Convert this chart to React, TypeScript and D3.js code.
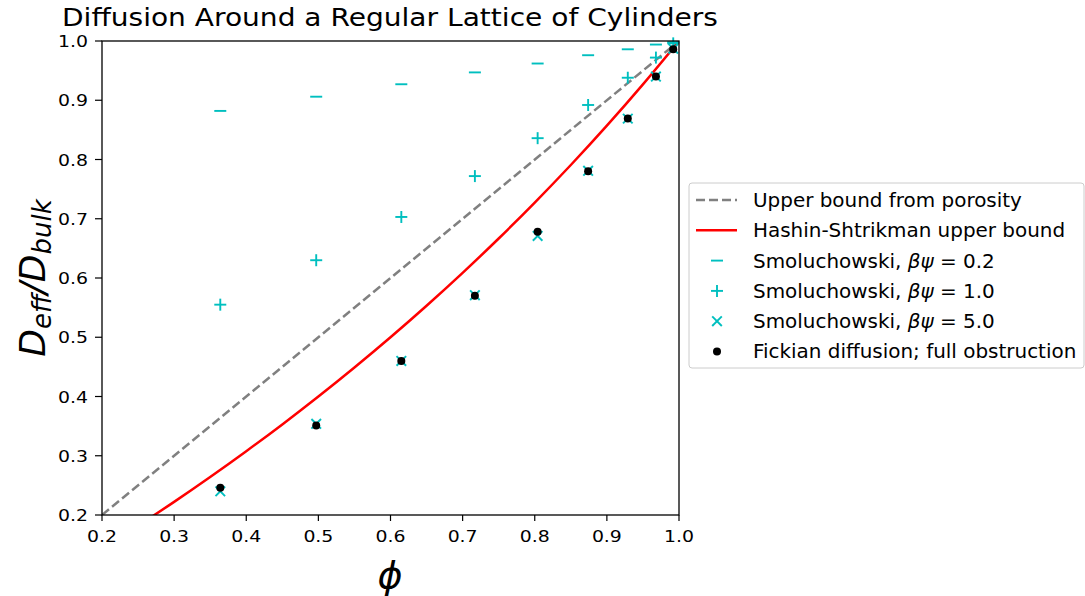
import React from "react";
import * as d3 from "d3";

const phiVals = [0.364, 0.497, 0.615, 0.717, 0.804, 0.874, 0.929, 0.968, 0.992];
const smol02 = [0.882, 0.906, 0.927, 0.947, 0.962, 0.976, 0.986, 0.994, 0.998];
const smol10 = [0.555, 0.63, 0.703, 0.772, 0.836, 0.892, 0.938, 0.972, 0.996];
const smol50 = [0.240, 0.354, 0.460, 0.571, 0.671, 0.781, 0.869, 0.940, 0.987];
const fickian = [0.246, 0.351, 0.460, 0.570, 0.678, 0.780, 0.869, 0.940, 0.986];

const porosityPhi = [0.2, 1.0];
const porosityVal = [0.2, 1.0];

const hsPhi = [0.25, 0.3, 0.35, 0.4, 0.45, 0.5, 0.55, 0.6, 0.65, 0.7, 0.75, 0.8, 0.85, 0.9, 0.95, 1.0];
const hsVal = [0.1818, 0.2222, 0.2642, 0.3077, 0.3529, 0.4, 0.449, 0.5, 0.5532, 0.6087, 0.6667, 0.7273, 0.7907, 0.8571, 0.9268, 1.0];

const xTicks = [0.2, 0.3, 0.4, 0.5, 0.6, 0.7, 0.8, 0.9, 1.0];
const yTicks = [0.2, 0.3, 0.4, 0.5, 0.6, 0.7, 0.8, 0.9, 1.0];

const legendLabels = [
  "Upper bound from porosity",
  "Hashin-Shtrikman upper bound",
  "Smoluchowski, ",
  "Smoluchowski, ",
  "Smoluchowski, ",
  "Fickian diffusion; full obstruction",
];
const legendBetas = ["", "", "0.2", "1.0", "5.0", ""];

const CYAN = "#00bfbf";
const FONT = "DejaVu Sans, sans-serif";

export default function App() {
  const x = d3.scaleLinear().domain([0.2, 1.0]).range([102, 679]);
  const y = d3.scaleLinear().domain([0.2, 1.0]).range([515, 41]);

  const lineGen = d3
    .line<[number, number]>()
    .x((d) => x(d[0]))
    .y((d) => y(d[1]));
  const curveGen = d3
    .line<[number, number]>()
    .x((d) => x(d[0]))
    .y((d) => y(d[1]))
    .curve(d3.curveMonotoneX);

  const porosityPts: [number, number][] = porosityPhi.map((p, i) => [p, porosityVal[i]]);
  const hsPts: [number, number][] = hsPhi.map((p, i) => [p, hsVal[i]]);

  const ms = 6;
  const minus = (cx: number, cy: number, k: string) => (
    <line key={k} x1={cx - ms} x2={cx + ms} y1={cy} y2={cy} stroke={CYAN} strokeWidth={1.9} />
  );
  const plus = (cx: number, cy: number, k: string) => (
    <g key={k} stroke={CYAN} strokeWidth={1.9}>
      <line x1={cx - ms} x2={cx + ms} y1={cy} y2={cy} />
      <line x1={cx} x2={cx} y1={cy - ms} y2={cy + ms} />
    </g>
  );
  const cross = (cx: number, cy: number, k: string) => {
    const s = ms * 0.8;
    return (
      <g key={k} stroke={CYAN} strokeWidth={1.9}>
        <line x1={cx - s} x2={cx + s} y1={cy - s} y2={cy + s} />
        <line x1={cx - s} x2={cx + s} y1={cy + s} y2={cy - s} />
      </g>
    );
  };
  const dot = (cx: number, cy: number, k: string) => (
    <circle key={k} cx={cx} cy={cy} r={4} fill="black" />
  );

  const lgX = 689;
  const lgY = 183;
  const rowY = (i: number) => 200 + i * 30.3;

  return (
    <svg width={1085} height={596} style={{ display: "block", position: "absolute", left: 0, top: 0 }} fontFamily={FONT}>
      <rect width={1085} height={596} fill="white" />
      <defs>
        <clipPath id="plotclip">
          <rect x={102} y={41} width={577} height={474} />
        </clipPath>
      </defs>
      <text x={390} y={26} fontSize={24} textAnchor="middle" textLength={656} lengthAdjust="spacingAndGlyphs">
        Diffusion Around a Regular Lattice of Cylinders
      </text>

      <g clipPath="url(#plotclip)">
        <path d={lineGen(porosityPts) || ""} fill="none" stroke="gray" strokeWidth={2.5} strokeDasharray="9,4" />
        <path d={curveGen(hsPts) || ""} fill="none" stroke="red" strokeWidth={2.5} />
      </g>
      <g>
        {phiVals.map((p, i) => minus(x(p), y(smol02[i]), "m" + i))}
        {phiVals.map((p, i) => plus(x(p), y(smol10[i]), "p" + i))}
        {phiVals.map((p, i) => cross(x(p), y(smol50[i]), "x" + i))}
        {phiVals.map((p, i) => dot(x(p), y(fickian[i]), "d" + i))}
      </g>

      <rect x={102} y={41} width={577} height={474} fill="none" stroke="black" strokeWidth={1.3} />

      {xTicks.map((t) => (
        <g key={"xt" + t}>
          <line x1={x(t)} x2={x(t)} y1={515} y2={521} stroke="black" strokeWidth={1.2} />
          <text x={x(t) - 15} y={542} fontSize={16} textLength={30} lengthAdjust="spacingAndGlyphs">
            {t.toFixed(1)}
          </text>
        </g>
      ))}
      {yTicks.map((t) => (
        <g key={"yt" + t}>
          <line x1={95} x2={102} y1={y(t)} y2={y(t)} stroke="black" strokeWidth={1.2} />
          <text x={58} y={y(t) + 6} fontSize={16} textLength={30} lengthAdjust="spacingAndGlyphs">
            {t.toFixed(1)}
          </text>
        </g>
      ))}

      <text x={390} y={588} fontSize={38} fontStyle="italic" textAnchor="middle">
        ϕ
      </text>

      <text transform="translate(45,278) rotate(-90)" fontSize={36} fontStyle="italic" textAnchor="middle">
        <tspan>D</tspan>
        <tspan fontSize={26} dy={6}>eff</tspan>
        <tspan dy={-6}>/D</tspan>
        <tspan fontSize={26} dy={6}>bulk</tspan>
      </text>

      <rect x={lgX} y={lgY} width={395} height={185} rx={3} fill="white" stroke="#cccccc" strokeWidth={1} />
      <line x1={696} x2={737} y1={rowY(0)} y2={rowY(0)} stroke="gray" strokeWidth={2.5} strokeDasharray="9,4" />
      <line x1={696} x2={737} y1={rowY(1)} y2={rowY(1)} stroke="red" strokeWidth={2.5} />
      {minus(717, rowY(2), "lm")}
      {plus(717, rowY(3), "lp")}
      {cross(717, rowY(4), "lx")}
      {dot(717, rowY(5), "ld")}
      <g transform="translate(753,0) scale(1.05,1)">
        {legendLabels.map((lab, i) => (
          <text key={"lg" + i} x={0} y={rowY(i) + 7} fontSize={19}>
            {lab}
            {legendBetas[i] ? (
              <>
                <tspan fontStyle="italic">βψ</tspan>
                <tspan> = {legendBetas[i]}</tspan>
              </>
            ) : null}
          </text>
        ))}
      </g>
    </svg>
  );
}
